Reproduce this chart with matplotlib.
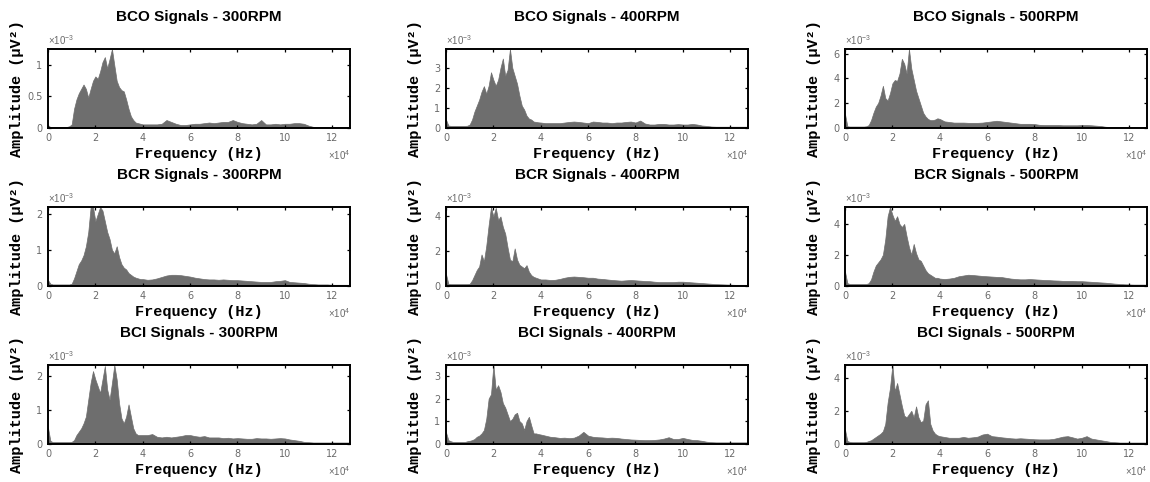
import matplotlib
matplotlib.use('Agg')
import matplotlib.pyplot as plt
from matplotlib.ticker import FuncFormatter

# frequency grid (kHz): 1 kHz steps up to 40 kHz, 2 kHz steps after that
freq_khz = list(range(0, 41)) + list(range(42, 129, 2))

# spectrum amplitudes, in units of 1e-3 uV^2
bco_300 = [0.03, 0.01, 0.01, 0.01, 0.01, 0.01, 0.01, 0.01, 0.01, 0.02,
           0.05, 0.30, 0.45, 0.55, 0.62, 0.69, 0.62, 0.48, 0.62, 0.75,
           0.82, 0.78, 0.90, 1.05, 1.13, 0.95, 1.10, 1.26, 1.00, 0.75,
           0.65, 0.60, 0.58, 0.45, 0.30, 0.18, 0.12, 0.08, 0.07, 0.06, 0.05,
           0.05, 0.05, 0.05, 0.06, 0.12, 0.09, 0.06, 0.04, 0.04, 0.05,
           0.06, 0.06, 0.07, 0.08, 0.07, 0.08, 0.09, 0.09, 0.12, 0.09,
           0.07, 0.06, 0.05, 0.06, 0.12, 0.05, 0.05, 0.06, 0.05, 0.06,
           0.06, 0.07, 0.07, 0.06, 0.03, 0.01, 0.01, 0.01, 0.01, 0.01, 0.01, 0.01, 0.01, 0.01]
bco_400 = [0.40, 0.10, 0.08, 0.08, 0.08, 0.08, 0.08, 0.08, 0.08, 0.09,
           0.15, 0.40, 0.80, 1.10, 1.40, 1.80, 2.08, 1.70, 2.10, 2.78,
           2.40, 2.10, 2.40, 3.00, 3.47, 2.60, 2.90, 3.95, 3.00, 2.60,
           2.20, 1.60, 1.10, 0.90, 0.60, 0.45, 0.40, 0.30, 0.28, 0.26, 0.25,
           0.22, 0.22, 0.22, 0.22, 0.25, 0.28, 0.30, 0.28, 0.25, 0.22,
           0.30, 0.28, 0.25, 0.25, 0.22, 0.25, 0.25, 0.28, 0.30, 0.25,
           0.35, 0.20, 0.15, 0.15, 0.18, 0.18, 0.15, 0.15, 0.17, 0.15,
           0.15, 0.18, 0.15, 0.10, 0.08, 0.05, 0.04, 0.04, 0.04, 0.04, 0.04, 0.04, 0.04, 0.04]
bco_500 = [1.10, 0.10, 0.08, 0.08, 0.08, 0.08, 0.08, 0.08, 0.08, 0.10,
           0.20, 0.60, 1.20, 1.70, 2.00, 2.60, 3.40, 2.40, 2.20, 2.80,
           3.60, 3.87, 3.80, 4.40, 5.60, 5.20, 4.40, 6.40, 4.80, 3.90,
           3.00, 2.40, 1.80, 1.20, 0.90, 0.70, 0.60, 0.60, 0.65, 0.75, 0.70,
           0.50, 0.45, 0.40, 0.40, 0.40, 0.38, 0.38, 0.38, 0.40, 0.45,
           0.50, 0.55, 0.50, 0.45, 0.40, 0.35, 0.30, 0.30, 0.30, 0.28,
           0.22, 0.20, 0.20, 0.20, 0.20, 0.18, 0.18, 0.18, 0.18, 0.20,
           0.20, 0.18, 0.15, 0.12, 0.06, 0.04, 0.04, 0.04, 0.04, 0.04, 0.04, 0.04, 0.04, 0.04]
bcr_300 = [0.15, 0.05, 0.03, 0.03, 0.03, 0.03, 0.03, 0.03, 0.03, 0.03,
           0.05, 0.20, 0.40, 0.60, 0.70, 0.85, 1.10, 1.50, 2.20, 2.20,
           1.80, 2.00, 2.20, 2.10, 1.80, 1.50, 1.30, 1.00, 0.90, 1.10,
           0.80, 0.60, 0.50, 0.45, 0.35, 0.30, 0.25, 0.22, 0.20, 0.18, 0.18,
           0.16, 0.17, 0.20, 0.24, 0.28, 0.30, 0.30, 0.29, 0.27, 0.25,
           0.22, 0.20, 0.18, 0.17, 0.17, 0.16, 0.17, 0.16, 0.15, 0.15,
           0.14, 0.13, 0.12, 0.11, 0.10, 0.10, 0.10, 0.12, 0.13, 0.15,
           0.10, 0.09, 0.08, 0.07, 0.05, 0.04, 0.03, 0.03, 0.03, 0.02, 0.02, 0.02, 0.02, 0.02]
bcr_400 = [0.66, 0.10, 0.08, 0.08, 0.08, 0.08, 0.08, 0.08, 0.08, 0.08,
           0.10, 0.30, 0.60, 0.90, 1.10, 1.80, 1.40, 2.30, 3.50, 4.55,
           4.00, 4.50, 3.80, 4.00, 3.40, 3.00, 2.20, 1.50, 1.40, 2.15,
           1.50, 1.20, 1.10, 1.00, 1.18, 0.80, 0.60, 0.50, 0.45, 0.40, 0.35,
           0.35, 0.32, 0.33, 0.38, 0.45, 0.50, 0.52, 0.50, 0.48, 0.45,
           0.45, 0.40, 0.38, 0.35, 0.32, 0.30, 0.28, 0.30, 0.32, 0.30,
           0.28, 0.26, 0.25, 0.22, 0.20, 0.20, 0.20, 0.20, 0.22, 0.22,
           0.20, 0.18, 0.16, 0.14, 0.12, 0.10, 0.08, 0.07, 0.06, 0.05, 0.04, 0.04, 0.04, 0.04]
bcr_500 = [0.90, 0.15, 0.10, 0.10, 0.10, 0.10, 0.10, 0.10, 0.10, 0.10,
           0.15, 0.40, 0.90, 1.30, 1.50, 1.70, 2.00, 3.00, 4.50, 5.10,
           4.60, 4.20, 4.50, 4.00, 3.80, 4.00, 3.20, 2.50, 2.00, 2.70,
           2.10, 1.70, 1.60, 1.30, 1.00, 0.80, 0.70, 0.60, 0.50, 0.50, 0.45,
           0.42, 0.45, 0.50, 0.60, 0.65, 0.70, 0.68, 0.65, 0.62, 0.60,
           0.58, 0.56, 0.55, 0.50, 0.45, 0.42, 0.40, 0.40, 0.42, 0.40,
           0.38, 0.36, 0.35, 0.33, 0.32, 0.30, 0.30, 0.30, 0.28, 0.28,
           0.26, 0.24, 0.22, 0.20, 0.18, 0.15, 0.12, 0.10, 0.08, 0.07, 0.06, 0.06, 0.06, 0.06]
bci_300 = [0.47, 0.08, 0.04, 0.04, 0.04, 0.04, 0.04, 0.04, 0.04, 0.04,
           0.05, 0.10, 0.25, 0.35, 0.45, 0.60, 0.80, 1.30, 1.80, 2.15,
           1.90, 1.70, 1.50, 1.90, 2.30, 1.60, 1.30, 1.80, 2.33, 1.90,
           1.20, 0.75, 0.60, 0.80, 1.16, 0.80, 0.45, 0.30, 0.25, 0.25, 0.25,
           0.25, 0.28, 0.20, 0.18, 0.20, 0.18, 0.20, 0.22, 0.25, 0.25,
           0.22, 0.20, 0.22, 0.18, 0.18, 0.18, 0.16, 0.17, 0.15, 0.16,
           0.15, 0.14, 0.14, 0.16, 0.15, 0.15, 0.14, 0.15, 0.16, 0.15,
           0.12, 0.10, 0.08, 0.05, 0.04, 0.03, 0.03, 0.03, 0.03, 0.03, 0.03, 0.03, 0.03, 0.03]
bci_400 = [0.50, 0.15, 0.10, 0.07, 0.07, 0.07, 0.07, 0.07, 0.07, 0.10,
           0.12, 0.15, 0.20, 0.30, 0.35, 0.45, 0.60, 1.10, 2.00, 2.20,
           3.50, 2.40, 2.60, 2.30, 1.80, 1.60, 1.30, 1.00, 1.10, 1.30,
           1.37, 1.00, 0.90, 0.60, 1.00, 1.19, 0.80, 0.45, 0.45, 0.42, 0.40,
           0.35, 0.30, 0.28, 0.25, 0.26, 0.24, 0.26, 0.35, 0.52, 0.35,
           0.30, 0.28, 0.27, 0.25, 0.26, 0.25, 0.22, 0.20, 0.18, 0.17,
           0.16, 0.15, 0.15, 0.16, 0.18, 0.22, 0.28, 0.20, 0.20, 0.25,
           0.20, 0.16, 0.15, 0.12, 0.08, 0.06, 0.05, 0.05, 0.05, 0.05, 0.05, 0.05, 0.05, 0.05]
bci_500 = [0.85, 0.15, 0.10, 0.08, 0.08, 0.08, 0.08, 0.08, 0.08, 0.10,
           0.15, 0.20, 0.30, 0.40, 0.50, 0.60, 0.75, 1.20, 2.50, 3.40,
           4.80, 3.20, 3.70, 3.00, 2.30, 1.70, 1.60, 1.80, 2.00, 1.60,
           2.27, 1.60, 1.30, 1.40, 2.40, 2.64, 1.20, 0.80, 0.60, 0.50, 0.45,
           0.40, 0.35, 0.35, 0.35, 0.40, 0.35, 0.38, 0.42, 0.55, 0.60,
           0.45, 0.42, 0.38, 0.35, 0.32, 0.30, 0.32, 0.30, 0.28, 0.26,
           0.25, 0.25, 0.25, 0.28, 0.35, 0.42, 0.45, 0.38, 0.30, 0.35,
           0.45, 0.30, 0.25, 0.20, 0.15, 0.10, 0.08, 0.06, 0.06, 0.06, 0.06, 0.06, 0.06, 0.06]

signals = ['BCO', 'BCR', 'BCI']
speeds = [300, 400, 500]
spectra = [[bco_300, bco_400, bco_500],
           [bcr_300, bcr_400, bcr_500],
           [bci_300, bci_400, bci_500]]
y_ticks = [[[0, 0.5, 1], [0, 1, 2, 3], [0, 2, 4, 6]],
           [[0, 1, 2], [0, 2, 4], [0, 2, 4]],
           [[0, 1, 2], [0, 1, 2, 3], [0, 2, 4]]]
x_ticks = [0, 2, 4, 6, 8, 10, 12]   # x 1e4 Hz

plt.rcParams['mathtext.fontset'] = 'custom'
plt.rcParams['mathtext.rm'] = 'Liberation Sans'
plt.rcParams['mathtext.it'] = 'Liberation Sans:italic'

W, H = 1150, 482
fig = plt.figure(figsize=(W / 100, H / 100), dpi=100)

col_left = [48, 446, 845]
row_top = [49, 207, 365]
ax_w, ax_h = 302, 78.5
fill_col = '#6e6e6e'
tick_col = '#6a6a6a'

freq_hz = [f * 1000 for f in freq_khz]

for r in range(3):
    for c in range(3):
        ax = fig.add_axes([col_left[c] / W, 1 - (row_top[r] + ax_h) / H, ax_w / W, ax_h / H])
        amp = [a * 1e-3 for a in spectra[r][c]]
        ax.fill_between(freq_hz, 0, amp, color=fill_col, linewidth=0.5, edgecolor=fill_col)
        ax.set_xlim(0, 127500)
        ax.set_ylim(0, max(amp))
        ax.set_xticks([t * 1e4 for t in x_ticks])
        ax.set_yticks([t * 1e-3 for t in y_ticks[r][c]])
        ax.xaxis.set_major_formatter(FuncFormatter(lambda v, p: f'{v / 1e4:g}'))
        ax.yaxis.set_major_formatter(FuncFormatter(lambda v, p: f'{v / 1e-3:g}'))
        ax.tick_params(direction='in', length=2.5, width=0.9, top=True, right=True,
                       labelsize=7, labelcolor=tick_col)
        ax.tick_params(axis='y', pad=4)
        ax.tick_params(axis='x', pad=4)
        for s in ax.spines.values():
            s.set_linewidth(1.4)
        ax.text(0, 1.03, r'$\times10^{-3}$', transform=ax.transAxes, fontsize=7,
                color=tick_col, ha='left', va='bottom')
        ax.text(1, -0.27, r'$\times10^{4}$', transform=ax.transAxes, fontsize=7,
                color=tick_col, ha='right', va='top')
        ax.set_title(f'{signals[r]} Signals - {speeds[c]}RPM', family='Liberation Sans',
                     fontweight='bold', fontsize=11, y=1.0, pad=20)
        ax.set_xlabel('Frequency (Hz)', family='Liberation Mono', fontweight='bold', fontsize=11)
        ax.set_ylabel('Amplitude (μV²)', family='Liberation Mono', fontweight='bold', fontsize=11)
        ax.xaxis.set_label_coords(0.5, -0.25)
        ax.yaxis.set_label_coords(-0.08, 0.5)

fig.savefig('out.png', dpi=100)
